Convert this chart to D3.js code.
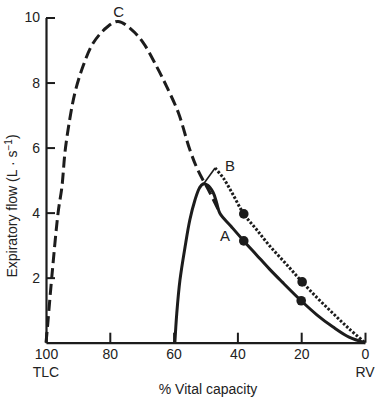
<!DOCTYPE html>
<html>
<head>
<meta charset="utf-8">
<script src="https://cdn.jsdelivr.net/npm/d3@7"></script>
<style>
  html, body { margin: 0; padding: 0; background: #fff; }
  svg text { font-family: "Liberation Sans", Arial, Helvetica, sans-serif; fill: #222; }
</style>
</head>
<body>
<svg id="chart" width="381" height="402"></svg>
<script>
// ---- data (x = % vital capacity, y = expiratory flow L/s) ----
const xTicks = [100, 80, 60, 40, 20, 0];
const yTicks = [2, 4, 6, 8, 10];

const curveCx = [100, 99.7, 98.2, 96.2, 95.0, 94.0, 92.5, 90.9, 88.4, 85.3, 80.9, 77.4, 73.1, 69.5, 65.3, 62.2, 58.5, 54.9, 52.4, 48.6, 45.5];
const curveCy = [0, 0.3, 2.0, 4.0, 4.8, 5.9, 6.9, 7.7, 8.5, 9.2, 9.7, 9.88, 9.62, 9.22, 8.49, 7.88, 7.07, 5.93, 5.31, 4.61, 3.99];

const curveAx = [59.6, 59.0, 58.0, 56.4, 54.9, 53.3, 51.9, 50.8, 49.3, 47.6, 46.5, 45.5, 42, 38, 34, 30, 26, 20, 15, 10, 5, 0];
const curveAy = [0, 0.91, 1.93, 2.95, 3.78, 4.39, 4.76, 4.88, 4.84, 4.62, 4.30, 3.98, 3.58, 3.13, 2.70, 2.27, 1.87, 1.29, 0.85, 0.48, 0.17, 0];

const riseBx = [50.9, 47.0];
const riseBy = [4.84, 5.37];

const curveBx = [47.0, 44.4, 41.3, 38, 34, 30, 25, 20, 15, 10, 5, 0];
const curveBy = [5.37, 5.06, 4.54, 3.96, 3.48, 2.99, 2.45, 1.90, 1.38, 0.90, 0.43, 0];

const dotsAx = [38, 20];
const dotsAy = [3.13, 1.29];
const dotsBx = [38, 19.7];
const dotsBy = [3.96, 1.87];

const curveLabels = ["C", "B", "A"];
const labelX = [77.2, 42.3, 43.9];
const labelY = [10.15, 5.4, 3.25];

// ---- drawing ----
const svg = d3.select("#chart");
const ink = "#1c1c1c";
const fam = '"Liberation Sans", Arial, sans-serif';

const x = d3.scaleLinear().domain([100, 0]).range([46, 365]);
const y = d3.scaleLinear().domain([0, 10]).range([342.7, 17.5]);

const xAxis = d3.axisBottom(x).tickValues(xTicks).tickSizeInner(-10).tickSizeOuter(0).tickPadding(6);
const yAxis = d3.axisLeft(y).tickValues(yTicks).tickSizeInner(-9).tickSizeOuter(0).tickPadding(6);

const gx = svg.append("g").attr("transform", `translate(0,${y(0)})`).call(xAxis);
const gy = svg.append("g").attr("transform", `translate(${x(100)},0)`).call(yAxis);

[gx, gy].forEach(g => {
  g.attr("font-size", 14).attr("font-family", fam);
  g.select(".domain").attr("stroke", ink).attr("stroke-width", 2.2);
  g.selectAll(".tick line").attr("stroke", ink).attr("stroke-width", 2);
  g.selectAll(".tick text").attr("font-size", 14).attr("fill", "#222");
});

svg.append("text").attr("x", x(100)).attr("y", 377).attr("text-anchor", "middle")
  .attr("font-size", 14).text("TLC");
svg.append("text").attr("x", x(0)).attr("y", 377).attr("text-anchor", "middle")
  .attr("font-size", 14).text("RV");
svg.append("text").attr("x", 208).attr("y", 394).attr("text-anchor", "middle")
  .attr("font-size", 14).text("% Vital capacity");

const yl = svg.append("text").attr("transform", "translate(17,206) rotate(-90)")
  .attr("text-anchor", "middle").attr("font-size", 14);
yl.append("tspan").text("Expiratory flow (L \u00b7 s");
yl.append("tspan").attr("font-size", 10).attr("dy", -5).text("\u22121");
yl.append("tspan").attr("dy", 5).text(")");

const line = d3.line().x(d => x(d[0])).y(d => y(d[1])).curve(d3.curveCatmullRom.alpha(0.5));
const zipP = (a, b) => a.map((v, i) => [v, b[i]]);

svg.append("path").attr("d", line(zipP(curveCx, curveCy)))
  .attr("fill", "none").attr("stroke", ink).attr("stroke-width", 3)
  .attr("stroke-dasharray", "11,5");

svg.append("path").attr("d", line(zipP(riseBx, riseBy)))
  .attr("fill", "none").attr("stroke", ink).attr("stroke-width", 1.6);

svg.append("path").attr("d", line(zipP(curveBx, curveBy)))
  .attr("fill", "none").attr("stroke", ink).attr("stroke-width", 3)
  .attr("stroke-dasharray", "2.5,1.8");

svg.append("path").attr("d", line(zipP(curveAx, curveAy)))
  .attr("fill", "none").attr("stroke", ink).attr("stroke-width", 3)
  .attr("stroke-linejoin", "round");

svg.selectAll("circle.a").data(zipP(dotsAx, dotsAy)).join("circle")
  .attr("cx", d => x(d[0])).attr("cy", d => y(d[1])).attr("r", 4.8).attr("fill", ink);
svg.selectAll("circle.b").data(zipP(dotsBx, dotsBy)).join("circle")
  .attr("cx", d => x(d[0])).attr("cy", d => y(d[1])).attr("r", 4.8).attr("fill", ink);

svg.selectAll("text.lbl").data(curveLabels).join("text").attr("class", "lbl")
  .attr("x", (d, i) => x(labelX[i])).attr("y", (d, i) => y(labelY[i]))
  .attr("text-anchor", "middle").attr("dominant-baseline", "middle")
  .attr("font-size", 15).text(d => d);
</script>
</body>
</html>
